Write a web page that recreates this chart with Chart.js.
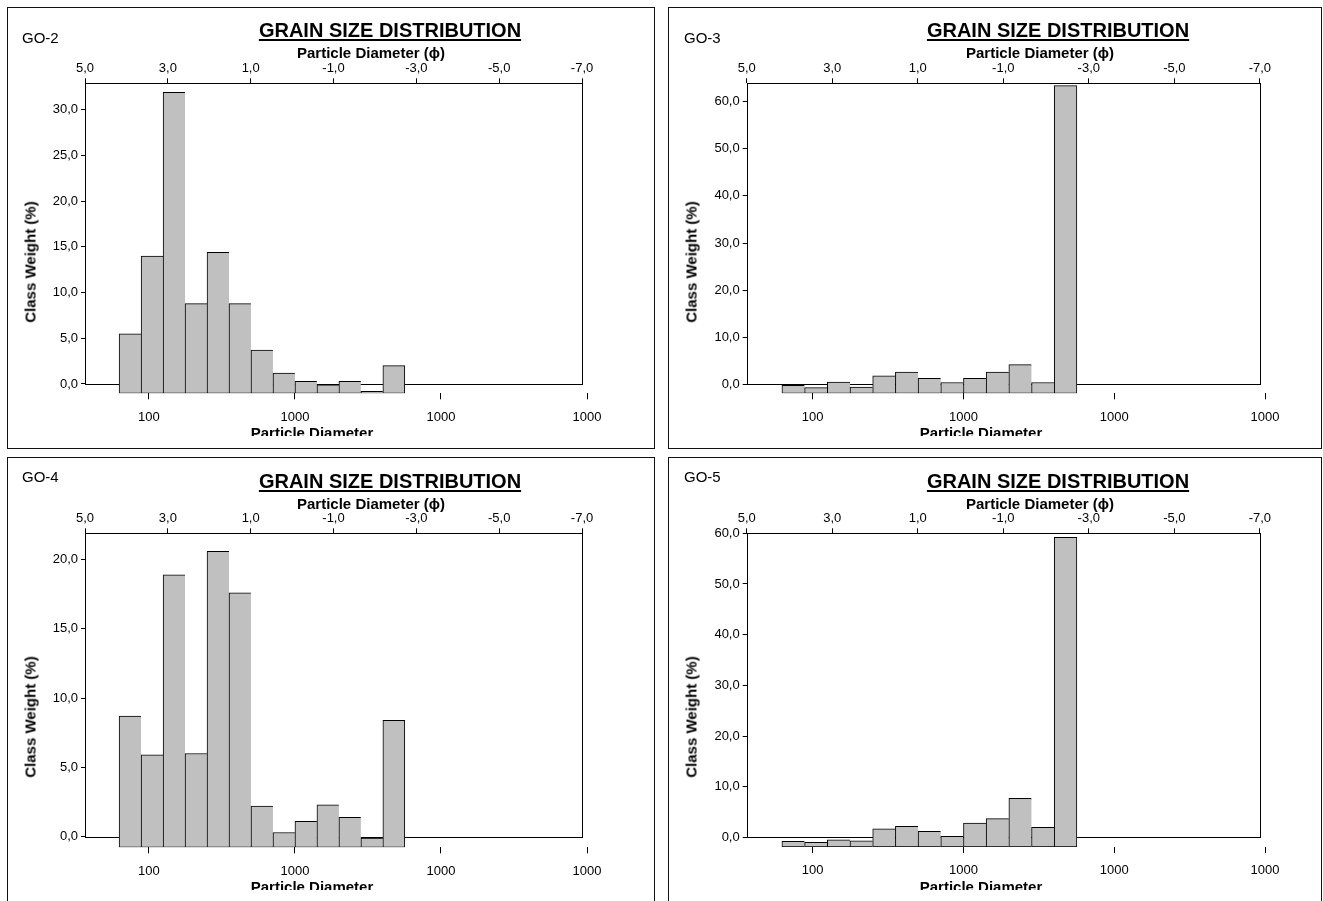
<!DOCTYPE html>
<html lang="en">
<head>
  <meta charset="UTF-8" />
  <title>Grain Size Distribution</title>
  <script src="https://cdn.jsdelivr.net/npm/chart.js"></script>
  <style>
    body {
      margin: 0;
      width: 1323px;
      height: 901px;
      position: relative;
      overflow: hidden;
      background: #fff;
      font-family: "Liberation Sans", Arial, sans-serif;
      color: #000;
    }
    .panel { position: absolute; border: 1px solid #111; box-sizing: border-box; }
    canvas { position: absolute; }
    .lbl { position: absolute; white-space: nowrap; line-height: 1; }
    .c { transform: translate(-50%, -50%); }
    .go { font-size: 15px; transform: translateY(-50%); }
    .title {
      font-size: 20px;
      font-weight: bold;
      text-decoration: underline;
      text-decoration-thickness: 2px;
      text-underline-offset: 2px;
    }
    .axt { font-size: 15px; font-weight: bold; }
    .yt { transform: translate(-50%, -50%) rotate(-90deg); }
    .clip { position: absolute; overflow: hidden; }
  </style>
</head>
<body>
  <script>
    // half-phi classes, mid points in microns (4 phi ... -2.5 phi)
    const classMidUm = [74.3, 105.1, 148.7, 210.2, 297.3, 420.4, 594.6, 840.9, 1189.2, 1681.8, 2378.4, 3363.6, 4756.8];

    // class weight (%) per sample
    const go2Weight = [5.5, 14.0, 31.9, 8.8, 14.4, 8.8, 3.7, 1.2, 0.3, -0.1, 0.3, -0.8, 2.0];
    const go3Weight = [-0.2, -0.7, 0.5, -0.6, 1.8, 2.6, 1.3, 0.4, 1.3, 2.6, 4.2, 0.4, 63.4];
    const go4Weight = [8.7, 5.9, 18.9, 6.0, 20.6, 17.6, 2.2, 0.3, 1.1, 2.3, 1.4, -0.1, 8.4];
    const go5Weight = [-0.8, -1.0, -0.5, -0.7, 1.7, 2.2, 1.2, 0.2, 2.8, 3.7, 7.7, 2.0, 59.2];

    // tick labels
    const go2Ticks = [0, 5, 10, 15, 20, 25, 30];
    const go3Ticks = [0, 10, 20, 30, 40, 50, 60];
    const go4Ticks = [0, 5, 10, 15, 20];
    const go5Ticks = [0, 10, 20, 30, 40, 50, 60];
    const phiTicks = [5, 3, 1, -1, -3, -5, -7];
    const umTicks = [100, 1000, 10000, 100000];
    const umTickLabels = ['100', '1000', '1000', '1000'];

    // page layout of the four panels (box = frame, area = plot area)
    const panels = [
      { name: 'GO-2', weights: go2Weight, ticks: go2Ticks, ymax: 32.9, base: -1.02,
        box: [7, 7, 654, 448], area: [85, 83.3, 587, 393.3],
        go: [22, 37], title: [390, 30], phi: [371, 52], yt: [30, 262], xt: [312, 432], clip: 436 },
      { name: 'GO-3', weights: go3Weight, ticks: go3Ticks, ymax: 63.9, base: -1.9,
        box: [668, 7, 1321, 448], area: [746.7, 83.3, 1265, 393.3],
        go: [684, 37], title: [1058, 30], phi: [1040, 52], yt: [691, 262], xt: [981, 432], clip: 436 },
      { name: 'GO-4', weights: go4Weight, ticks: go4Ticks, ymax: 21.9, base: -0.77,
        box: [7, 457, 654, 905], area: [85, 533.3, 587, 847.3],
        go: [22, 476], title: [390, 481], phi: [371, 503], yt: [30, 717], xt: [312, 886], clip: 890 },
      { name: 'GO-5', weights: go5Weight, ticks: go5Ticks, ymax: 60.0, base: -1.9,
        box: [668, 457, 1321, 905], area: [746.7, 533.3, 1265, 847],
        go: [684, 476], title: [1058, 481], phi: [1040, 503], yt: [691, 717], xt: [981, 886], clip: 890 }
    ];

    const fmt = v => v.toFixed(1).replace('.', ',');
    const tickFont = { family: '"Liberation Sans", Arial, sans-serif', size: 13 };

    function addText(cls, text, x, y, parent) {
      const d = document.createElement('div');
      d.className = 'lbl ' + cls;
      d.textContent = text;
      d.style.left = x + 'px';
      d.style.top = y + 'px';
      (parent || document.body).appendChild(d);
      return d;
    }

    // frame of the plot: top, sides and the 0 line
    const plotBox = {
      id: 'plotBox',
      beforeDatasetsDraw(chart) {
        const { ctx, scales } = chart;
        const l = Math.round(scales.phi.getPixelForValue(5)) + 0.5;
        const r = Math.round(scales.phi.getPixelForValue(-7)) + 0.5;
        const t = Math.round(scales.y.getPixelForValue(scales.y.max)) + 0.5;
        const b = Math.round(scales.y.getPixelForValue(0)) + 0.5;
        ctx.save();
        ctx.strokeStyle = '#000';
        ctx.lineWidth = 1;
        ctx.strokeRect(l, t, r - l, b - t);
        ctx.restore();
      }
    };

    panels.forEach(p => {
      const [bl, bt, br, bb] = p.box;
      const [al, at, ar, ab] = p.area;

      const frame = document.createElement('div');
      frame.className = 'panel';
      frame.style.left = bl + 'px';
      frame.style.top = bt + 'px';
      frame.style.width = (br - bl + 1) + 'px';
      frame.style.height = (bb - bt + 1) + 'px';
      document.body.appendChild(frame);

      const cl = bl + 1, ct = bt + 1, cw = br - bl - 1, ch = Math.round(ab + 46 - ct);
      const cv = document.createElement('canvas');
      cv.width = cw;
      cv.height = ch;
      cv.style.left = cl + 'px';
      cv.style.top = ct + 'px';
      cv.style.width = cw + 'px';
      cv.style.height = ch + 'px';
      document.body.appendChild(cv);

      new Chart(cv, {
        type: 'bar',
        data: {
          datasets: [{
            data: classMidUm.map((x, i) => ({ x: x, y: [p.base, p.weights[i]] })),
            backgroundColor: '#c0c0c0',
            borderColor: '#000',
            borderWidth: c => ({ top: 1, left: 1, bottom: 1, right: c.dataIndex === classMidUm.length - 1 ? 1 : 0 }),
            borderSkipped: false,
            barPercentage: 1,
            categoryPercentage: 1,
            xAxisID: 'x',
            yAxisID: 'y'
          }]
        },
        options: {
          responsive: false,
          animation: false,
          devicePixelRatio: 1,
          layout: { padding: { left: 0, top: 0, bottom: 0, right: cl + cw - ar } },
          plugins: { legend: { display: false }, tooltip: { enabled: false } },
          scales: {
            x: {
              type: 'logarithmic', position: 'bottom', min: 36.5, max: 100000, bounds: 'data', offset: false,
              grid: { drawOnChartArea: false, tickLength: 6, color: '#000', offset: false },
              border: { display: false },
              ticks: { font: tickFont, color: '#000', padding: 10, autoSkip: false, maxRotation: 0,
                       callback: v => umTickLabels[umTicks.indexOf(v)] },
              afterBuildTicks: s => { s.ticks = umTicks.map(v => ({ value: v })); },
              afterFit: s => { s.height = ct + ch - ab; s.paddingLeft = 0; s.paddingRight = 0; }
            },
            phi: {
              type: 'linear', position: 'top', reverse: true, min: -7.12, max: 5, offset: false,
              grid: { drawOnChartArea: false, tickLength: 5, color: '#000', offset: false },
              border: { display: false },
              ticks: { font: tickFont, color: '#000', padding: 2, autoSkip: false, maxRotation: 0, callback: fmt },
              afterBuildTicks: s => { s.ticks = phiTicks.map(v => ({ value: v })); },
              afterFit: s => { s.height = at - ct; s.paddingLeft = 0; s.paddingRight = 0; }
            },
            y: {
              type: 'linear', position: 'left', min: p.base, max: p.ymax,
              grid: { drawOnChartArea: false, tickLength: 4, color: '#000' },
              border: { display: false },
              ticks: { font: tickFont, color: '#000', padding: 3, autoSkip: false, callback: fmt },
              afterBuildTicks: s => { s.ticks = p.ticks.map(v => ({ value: v })); },
              afterFit: s => { s.width = al - cl; s.paddingTop = 0; s.paddingBottom = 0; }
            }
          }
        },
        plugins: [plotBox]
      });

      addText('go', p.name, p.go[0], p.go[1]);
      addText('title c', 'GRAIN SIZE DISTRIBUTION', p.title[0], p.title[1]);
      addText('axt c', 'Particle Diameter (\u03d5)', p.phi[0], p.phi[1]);
      addText('axt yt', 'Class Weight (%)', p.yt[0], p.yt[1]);

      // bottom axis title is cut off at the lower edge, as in the original
      const clip = document.createElement('div');
      clip.className = 'clip';
      clip.style.left = (p.xt[0] - 100) + 'px';
      clip.style.top = (p.xt[1] - 12) + 'px';
      clip.style.width = '200px';
      clip.style.height = (p.clip - p.xt[1] + 12) + 'px';
      document.body.appendChild(clip);
      addText('axt c', 'Particle Diameter', 100, 12, clip);
    });
  </script>
</body>
</html>
